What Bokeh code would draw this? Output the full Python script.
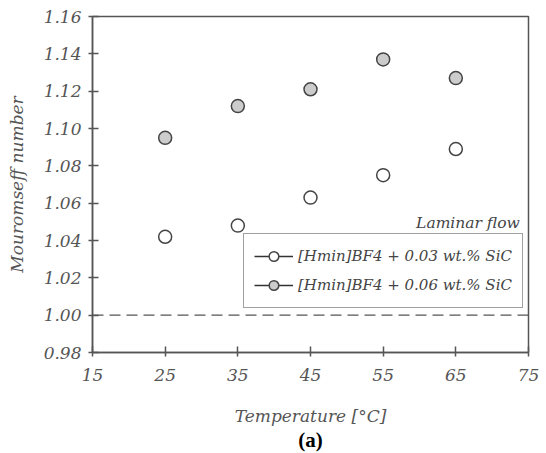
from bokeh.plotting import figure
from bokeh.models import Span, Label, Legend, LegendItem, Title, FixedTicker, CustomJSTickFormatter
from bokeh.embed import file_html
from bokeh.resources import INLINE

temps = [25, 35, 45, 55, 65]
sic_003 = [1.042, 1.048, 1.063, 1.075, 1.089]
sic_006 = [1.095, 1.112, 1.121, 1.137, 1.127]
x_ticks = [15, 25, 35, 45, 55, 65, 75]
y_ticks = [0.98, 1.00, 1.02, 1.04, 1.06, 1.08, 1.10, 1.12, 1.14, 1.16]
labels = ["[Hmin]BF4 + 0.03 wt.% SiC", "[Hmin]BF4 + 0.06 wt.% SiC"]

FONT = "DejaVu Serif"
AX = "#555555"

p = figure(width=546, height=453, output_backend="svg", toolbar_location=None,
           x_range=(15, 75), y_range=(0.98, 1.16),
           min_border_left=92, min_border_right=18, min_border_top=16, min_border_bottom=101)
p.grid.visible = False
p.outline_line_color = AX
p.outline_line_width = 1.5

for ax in (p.xaxis[0], p.yaxis[0]):
    ax.axis_line_color = AX
    ax.axis_line_width = 1.5
    ax.major_tick_line_color = AX
    ax.major_tick_line_width = 1.5
    ax.major_tick_in = 6
    ax.major_tick_out = 4
    ax.minor_tick_line_color = None
    ax.major_label_text_font = FONT
    ax.major_label_text_font_style = "italic"
    ax.major_label_text_font_size = "17px"
    ax.major_label_text_color = AX
    ax.axis_label_text_font = FONT
    ax.axis_label_text_font_style = "italic"
    ax.axis_label_text_font_size = "17px"
    ax.axis_label_text_color = AX

p.xaxis.ticker = FixedTicker(ticks=x_ticks)
p.yaxis.ticker = FixedTicker(ticks=y_ticks)
p.yaxis.formatter = CustomJSTickFormatter(code="return tick.toFixed(2);")
p.xaxis.axis_label = "Temperature [°C]"
p.yaxis.axis_label = "Mouromseff number"
p.xaxis.major_label_standoff = 12
p.yaxis.major_label_standoff = 7
p.xaxis.axis_label_standoff = 22
p.yaxis.axis_label_standoff = 14

p.add_layout(Span(location=1.0, dimension="width", line_color=AX, line_width=1.3, line_dash="11 6"))

r1 = p.scatter(temps, sic_003, size=13, fill_color="white", line_color="#444444", line_width=1.5)
r2 = p.scatter(temps, sic_006, size=13, fill_color="#cccccc", line_color="#444444", line_width=1.5)
l1 = p.line([float("nan")], [float("nan")], line_color="#333333", line_width=1.5)
l2 = p.line([float("nan")], [float("nan")], line_color="#333333", line_width=1.5)

legend = Legend(items=[LegendItem(label=labels[0], renderers=[l1, r1]),
                       LegendItem(label=labels[1], renderers=[l2, r2])],
                location=(151, 44), border_line_color="#444444", border_line_width=1.5,
                label_text_font=FONT, label_text_font_style="italic", label_text_font_size="15px",
                label_text_color="#444444", glyph_width=39, glyph_height=24, label_height=24,
                spacing=5, padding=10, margin=0, label_standoff=5)
p.add_layout(legend)

p.add_layout(Label(x=73.8, y=1.0493, text="Laminar flow", text_align="right", text_baseline="middle",
                   text_font=FONT, text_font_style="italic", text_font_size="15.5px", text_color="#444444"))

p.add_layout(Title(text="(a)", align="center", text_font="Liberation Serif", text_font_style="bold",
                   text_font_size="21px", text_color="black", standoff=-5, offset=0), "below")

open("out.html", "w").write(file_html(p, INLINE))
